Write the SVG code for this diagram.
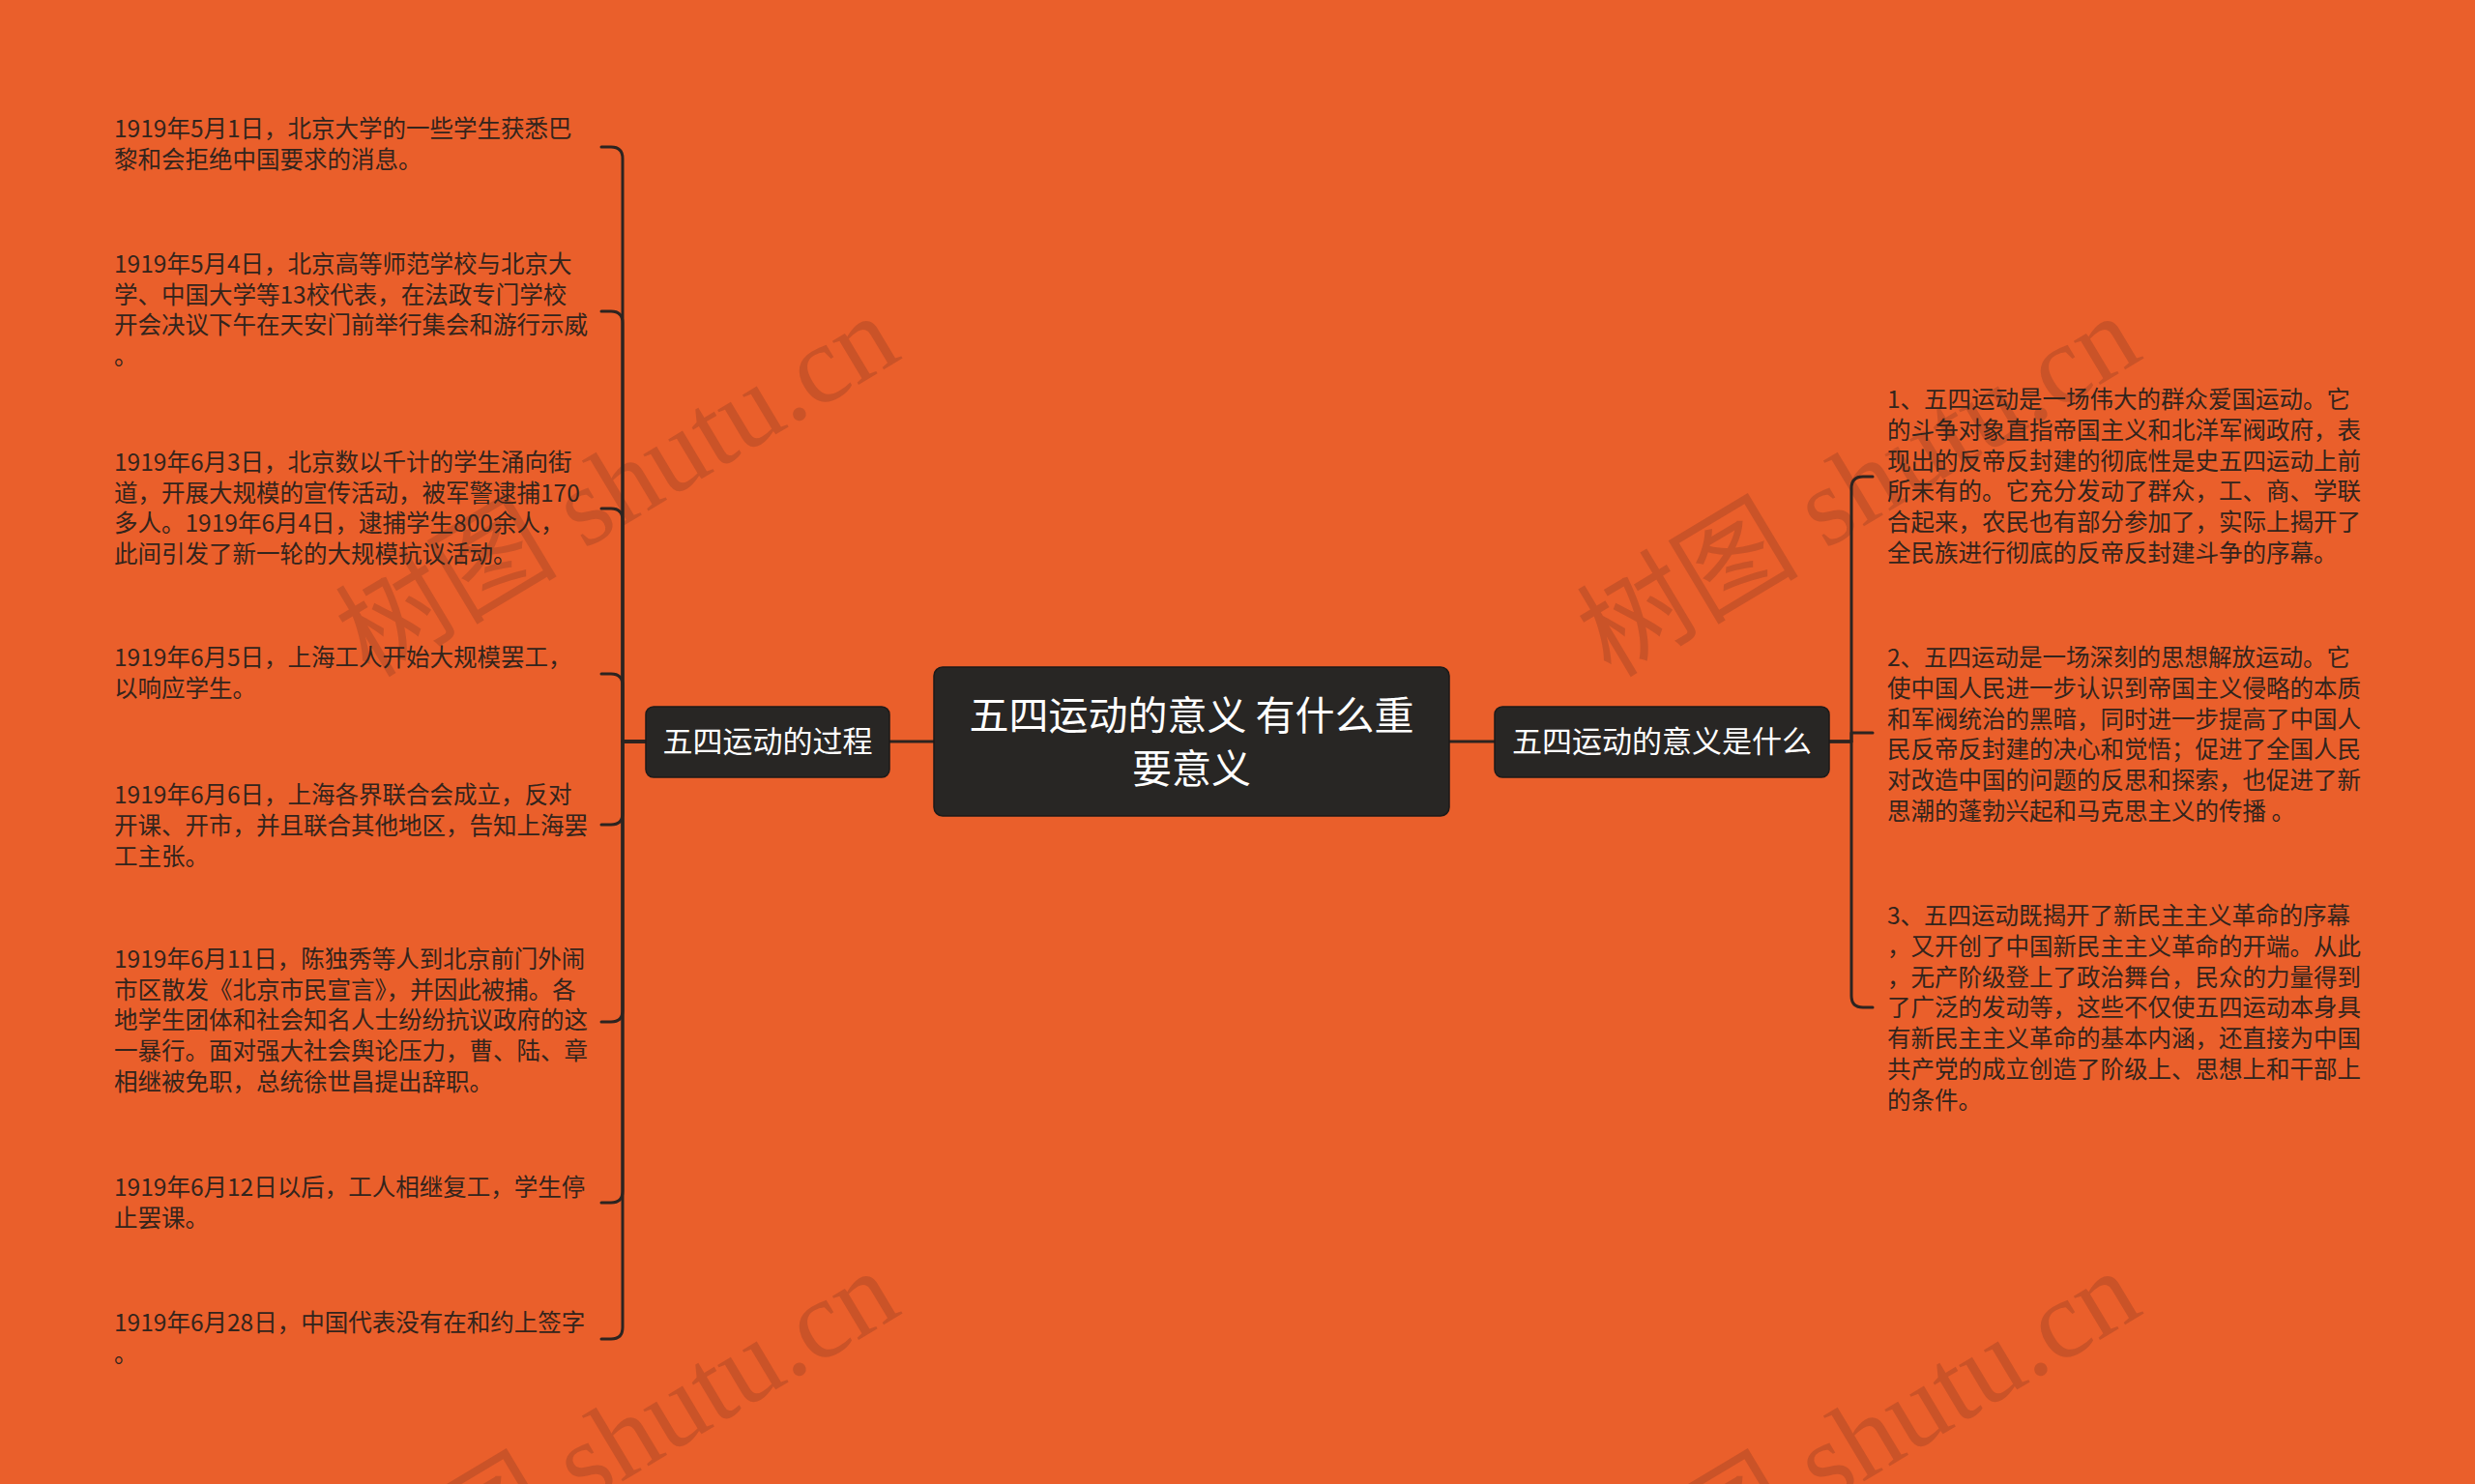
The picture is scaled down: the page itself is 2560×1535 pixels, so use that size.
<svg xmlns="http://www.w3.org/2000/svg" width="2560" height="1535" viewBox="0 0 2560 1535">
<style>
.bg{fill:#EA5F2B}
.wm{font-family:"Liberation Serif","Noto Sans CJK SC",serif;font-size:115px;fill:#5a2a20;fill-opacity:0.22}
.box{fill:#282624;stroke:#1c1a19;stroke-width:1.5}
.ntxt{font-family:"Noto Sans CJK SC","Noto Sans CJK JP",sans-serif;fill:#ffffff;text-anchor:middle}
.leaf{font-family:"Noto Sans CJK SC","Noto Sans CJK JP",sans-serif;font-size:24.5px;fill:#33241c}
.conn{fill:none;stroke:#2d2420;stroke-width:3;stroke-linecap:round;stroke-linejoin:round}
</style>
<rect class="bg" x="0" y="0" width="2560" height="1535"/>
<g id="watermarks">
<text class="wm" x="643" y="540" text-anchor="middle" transform="rotate(-31 643 510)">树图 shutu.cn</text>
<text class="wm" x="1927" y="540" text-anchor="middle" transform="rotate(-31 1927 510)">树图 shutu.cn</text>
<text class="wm" x="643" y="1528" text-anchor="middle" transform="rotate(-31 643 1498)">树图 shutu.cn</text>
<text class="wm" x="1927" y="1528" text-anchor="middle" transform="rotate(-31 1927 1498)">树图 shutu.cn</text>
</g>
<g id="connectors">
<path class="conn" d="M966,767 H920"/>
<path class="conn" d="M1499,767 H1546"/>
<path class="conn" d="M668,767 H644 V164 Q644,152 632,152 H622"/>
<path class="conn" d="M668,767 H644 V334 Q644,322 632,322 H622"/>
<path class="conn" d="M668,767 H644 V538 Q644,526 632,526 H622"/>
<path class="conn" d="M668,767 H644 V709 Q644,697 632,697 H622"/>
<path class="conn" d="M668,767 H644 V841 Q644,853 632,853 H622"/>
<path class="conn" d="M668,767 H644 V1045 Q644,1057 632,1057 H622"/>
<path class="conn" d="M668,767 H644 V1232 Q644,1244 632,1244 H622"/>
<path class="conn" d="M668,767 H644 V1373 Q644,1385 632,1385 H622"/>
<path class="conn" d="M1892,767 H1915 V505 Q1915,493 1927,493 H1937"/>
<path class="conn" d="M1892,767 H1915 V758 H1937"/>
<path class="conn" d="M1892,767 H1915 V1030 Q1915,1042 1927,1042 H1937"/>
</g>
<g id="root">
<rect class="box" x="966" y="690" width="533" height="154" rx="9"/>
<text class="ntxt" font-size="41" x="1232.5" y="755">五四运动的意义 有什么重</text>
<text class="ntxt" font-size="41" x="1232.5" y="810">要意义</text>
</g>
<g id="node-process">
<rect class="box" x="668" y="731" width="252" height="73" rx="8"/>
<text class="ntxt" font-size="31" x="794" y="778">五四运动的过程</text>
</g>
<g id="node-meaning">
<rect class="box" x="1546" y="731" width="346" height="73" rx="8"/>
<text class="ntxt" font-size="31" x="1719" y="778">五四运动的意义是什么</text>
</g>
<g id="leaf-l1">
<text class="leaf" x="118" y="142">1919年5月1日，北京大学的一些学生获悉巴</text>
<text class="leaf" x="118" y="174">黎和会拒绝中国要求的消息。</text>
</g>
<g id="leaf-l2">
<text class="leaf" x="118" y="282">1919年5月4日，北京高等师范学校与北京大</text>
<text class="leaf" x="118" y="314">学、中国大学等13校代表，在法政专门学校</text>
<text class="leaf" x="118" y="345">开会决议下午在天安门前举行集会和游行示威</text>
<text class="leaf" x="118" y="377">。</text>
</g>
<g id="leaf-l3">
<text class="leaf" x="118" y="487">1919年6月3日，北京数以千计的学生涌向街</text>
<text class="leaf" x="118" y="519">道，开展大规模的宣传活动，被军警逮捕170</text>
<text class="leaf" x="118" y="550">多人。1919年6月4日，逮捕学生800余人，</text>
<text class="leaf" x="118" y="582">此间引发了新一轮的大规模抗议活动。</text>
</g>
<g id="leaf-l4">
<text class="leaf" x="118" y="689">1919年6月5日，上海工人开始大规模罢工，</text>
<text class="leaf" x="118" y="721">以响应学生。</text>
</g>
<g id="leaf-l5">
<text class="leaf" x="118" y="831">1919年6月6日，上海各界联合会成立，反对</text>
<text class="leaf" x="118" y="863">开课、开市，并且联合其他地区，告知上海罢</text>
<text class="leaf" x="118" y="895">工主张。</text>
</g>
<g id="leaf-l6">
<text class="leaf" x="118" y="1001">1919年6月11日，陈独秀等人到北京前门外闹</text>
<text class="leaf" x="118" y="1033">市区散发《北京市民宣言》，并因此被捕。各</text>
<text class="leaf" x="118" y="1064">地学生团体和社会知名人士纷纷抗议政府的这</text>
<text class="leaf" x="118" y="1096">一暴行。面对强大社会舆论压力，曹、陆、章</text>
<text class="leaf" x="118" y="1128">相继被免职，总统徐世昌提出辞职。</text>
</g>
<g id="leaf-l7">
<text class="leaf" x="118" y="1237">1919年6月12日以后，工人相继复工，学生停</text>
<text class="leaf" x="118" y="1269">止罢课。</text>
</g>
<g id="leaf-l8">
<text class="leaf" x="118" y="1377">1919年6月28日，中国代表没有在和约上签字</text>
<text class="leaf" x="118" y="1409">。</text>
</g>
<g id="leaf-r1">
<text class="leaf" x="1952" y="422">1、五四运动是一场伟大的群众爱国运动。它</text>
<text class="leaf" x="1952" y="454">的斗争对象直指帝国主义和北洋军阀政府，表</text>
<text class="leaf" x="1952" y="486">现出的反帝反封建的彻底性是史五四运动上前</text>
<text class="leaf" x="1952" y="517">所未有的。它充分发动了群众，工、商、学联</text>
<text class="leaf" x="1952" y="549">合起来，农民也有部分参加了，实际上揭开了</text>
<text class="leaf" x="1952" y="581">全民族进行彻底的反帝反封建斗争的序幕。</text>
</g>
<g id="leaf-r2">
<text class="leaf" x="1952" y="689">2、五四运动是一场深刻的思想解放运动。它</text>
<text class="leaf" x="1952" y="721">使中国人民进一步认识到帝国主义侵略的本质</text>
<text class="leaf" x="1952" y="753">和军阀统治的黑暗，同时进一步提高了中国人</text>
<text class="leaf" x="1952" y="784">民反帝反封建的决心和觉悟；促进了全国人民</text>
<text class="leaf" x="1952" y="816">对改造中国的问题的反思和探索，也促进了新</text>
<text class="leaf" x="1952" y="848">思潮的蓬勃兴起和马克思主义的传播 。</text>
</g>
<g id="leaf-r3">
<text class="leaf" x="1952" y="956">3、五四运动既揭开了新民主主义革命的序幕</text>
<text class="leaf" x="1952" y="988">，又开创了中国新民主主义革命的开端。从此</text>
<text class="leaf" x="1952" y="1020">，无产阶级登上了政治舞台，民众的力量得到</text>
<text class="leaf" x="1952" y="1051">了广泛的发动等，这些不仅使五四运动本身具</text>
<text class="leaf" x="1952" y="1083">有新民主主义革命的基本内涵，还直接为中国</text>
<text class="leaf" x="1952" y="1115">共产党的成立创造了阶级上、思想上和干部上</text>
<text class="leaf" x="1952" y="1147">的条件。</text>
</g>
</svg>
